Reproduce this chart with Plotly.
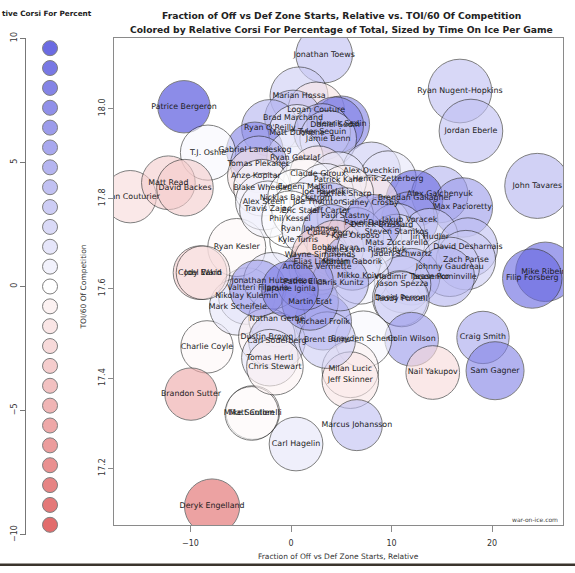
import plotly.graph_objects as go

W, H = 575, 573

# ---------------- data ----------------
PLAYERS = [
    "Jonathan Toews", "Marian Hossa", "Ryan Nugent-Hopkins", "Patrice Bergeron",
    "Logan Couture", "Brad Marchand", "Ryan O'Reilly", "Matt Duchene",
    "Henrik Sedin", "Daniel Sedin", "Tyler Seguin", "Jamie Benn",
    "Gabriel Landeskog", "T.J. Oshie", "Ryan Getzlaf", "Tomas Plekanec",
    "Alex Ovechkin", "Henrik Zetterberg", "Alex Galchenyuk", "Brendan Gallagher",
    "Sidney Crosby", "Max Pacioretty", "John Tavares", "Jakub Voracek",
    "Derick Brassard", "Steven Stamkos", "Jiri Hudler", "Mats Zuccarello",
    "David Desharnais", "Jaden Schwartz", "Zach Parise", "Johnny Gaudreau",
    "Vladimir Tarasenko", "Jason Pominville", "Mike Ribeiro", "Filip Forsberg",
    "Jason Spezza", "Mikko Koivu", "David Perron", "Teddy Purcell",
    "Colin Wilson", "Brayden Schenn", "Michael Frolik", "Craig Smith",
    "Nail Yakupov", "Sam Gagner", "Milan Lucic", "Jeff Skinner",
    "Marcus Johansson", "Carl Hagelin", "Deryk Engelland", "Mike Santorelli",
    "Matt Cullen", "Charlie Coyle", "Brandon Sutter", "Nikolay Kulemin",
    "Mark Scheifele", "Nathan Gerbe", "Dustin Brown", "Carl Soderberg",
    "Brent Burns", "Tomas Hertl", "Chris Stewart", "Sean Couturier",
    "Matt Read", "David Backes", "Ryan Kesler", "Cody Eakin",
    "Joel Ward", "Kyle Turris", "Antoine Vermette", "Jonathan Huberdeau",
    "Valtteri Filppula", "Martin Erat", "Anze Kopitar", "Blake Wheeler",
    "Alex Steen", "Travis Zajac", "Jordan Eberle",
    "Claude Giroux", "Patrick Kane", "Evgeni Malkin", "Joe Pavelski",
    "Patrick Sharp", "Nicklas Backstrom", "Joe Thornton", "Eric Staal",
    "Jeff Carter", "Phil Kessel", "Paul Stastny", "Ryan Johansen",
    "Corey Perry", "Kyle Okposo", "Pavel Datsyuk", "Bobby Ryan",
    "Wayne Simmonds", "Elias Lindholm", "Marian Gaborik", "James van Riemsdyk",
    "Chris Kunitz", "Patrik Elias", "Jarome Iginla",
]
OFF_ZS_REL = [
    3.3, 0.8, 16.8, -10.65,
    2.5, 0.2, -2.1, 0.6,
    5.0, 4.4, 3.1, 3.7,
    -3.6, -8.26, 0.4, -3.2,
    8.0, 9.65, 14.8, 12.3,
    7.9, 17.1, 24.5, 11.8,
    9.05, 10.5, 13.8, 10.5,
    17.6, 11.0, 17.4, 15.8,
    12.0, 15.3, 25.3, 24.0,
    11.1, 6.9, 10.85, 11.0,
    12.0, 7.2, 3.2, 19.1,
    14.1, 20.3, 5.9, 5.9,
    6.55, 0.5, -7.85, -3.8,
    -3.9, -8.36, -9.95, -4.4,
    -5.3, -1.4, -2.4, -1.4,
    3.6, -2.1, -1.6, -16.0,
    -12.2, -10.55, -5.4, -9.05,
    -8.75, 0.7, 2.6, -1.9,
    -3.3, 1.9, -3.5, -2.9,
    -2.7, -2.3, 17.9,
    2.7, 4.7, 1.4, 3.4,
    5.4, 0.5, 2.7, 0.9,
    3.9, -0.1, 5.4, 1.9,
    3.9, 6.4, 8.1, 4.4,
    2.9, 3.1, 6.1, 7.4,
    4.9, 1.4, -0.1,
]
TOI_COMP = [
    18.12, 18.028, 18.039, 18.004,
    17.996, 17.978, 17.957, 17.946,
    17.965, 17.963, 17.948, 17.933,
    17.907, 17.902, 17.889, 17.876,
    17.861, 17.843, 17.809, 17.800,
    17.789, 17.780, 17.828, 17.752,
    17.741, 17.726, 17.715, 17.702,
    17.691, 17.676, 17.663, 17.648,
    17.626, 17.626, 17.637, 17.622,
    17.609, 17.628, 17.578, 17.576,
    17.487, 17.487, 17.526, 17.491,
    17.413, 17.417, 17.420, 17.396,
    17.296, 17.254, 17.115, 17.324,
    17.322, 17.470, 17.365, 17.583,
    17.559, 17.533, 17.493, 17.483,
    17.485, 17.446, 17.426, 17.804,
    17.835, 17.824, 17.691, 17.635,
    17.635, 17.707, 17.648, 17.617,
    17.600, 17.570, 17.850, 17.824,
    17.793, 17.776, 17.950,
    17.854, 17.841, 17.826, 17.815,
    17.811, 17.802, 17.793, 17.772,
    17.772, 17.754, 17.761, 17.733,
    17.724, 17.717, 17.746, 17.689,
    17.674, 17.659, 17.659, 17.685,
    17.613, 17.615, 17.598,
]
REL_CF = [
    2.5, 2.0, 2.5, 7.5,
    -1.0, 2.5, 3.0, 0.5,
    5.0, 5.0, 3.0, 2.0,
    5.0, 0.3, 0.5, 3.0,
    2.0, 1.0, 3.0, 6.0,
    -1.0, 4.0, 3.0, 4.0,
    2.0, 2.0, 2.0, 1.0,
    2.5, 1.0, 2.0, 2.0,
    3.0, 3.0, 6.0, 6.0,
    2.0, 0.5, 1.0, 2.0,
    4.0, 0.3, 4.0, 3.5,
    -1.5, 5.0, -0.5, -1.0,
    2.5, 1.0, -6.0, -0.5,
    0.0, -0.3, -3.5, 1.0,
    1.0, 1.0, -0.5, 2.0,
    2.0, 1.0, -0.5, -1.5,
    -2.0, -2.0, -0.3, -2.0,
    -1.0, 0.0, -1.5, 1.0,
    4.0, 4.0, -1.0, 0.0,
    0.5, 0.5, 2.5,
    -1.0, 1.0, 0.0, 0.5,
    -0.5, 0.0, 1.0, 0.0,
    3.0, 0.0, 1.0, 0.5,
    3.0, 2.0, 4.0, -2.0,
    -2.0, -1.0, 3.0, 1.0,
    3.0, 4.0, 5.0,
]
TOI_GP = [
    15.9, 16.7, 20.1, 13.6,
    15.9, 15.9, 15.9, 15.9,
    15.9, 15.9, 15.9, 15.9,
    15.9, 15.1, 15.9, 15.9,
    16.7, 15.9, 15.9, 15.9,
    15.9, 17.5, 21.0, 15.9,
    15.9, 15.9, 15.9, 15.9,
    17.5, 15.9, 17.5, 17.5,
    15.9, 17.5, 17.5, 17.5,
    15.9, 15.9, 15.1, 15.1,
    14.3, 15.9, 15.9, 13.6,
    14.3, 16.7, 15.9, 15.9,
    12.9, 14.3, 15.1, 14.3,
    14.3, 13.6, 13.6, 15.9,
    15.9, 15.9, 15.9, 15.9,
    15.9, 15.9, 15.9, 13.6,
    14.3, 15.9, 16.7, 14.3,
    14.3, 15.9, 15.9, 15.9,
    15.9, 15.9, 15.9, 15.9,
    15.9, 15.9, 20.1,
    15.9, 15.9, 15.9, 15.9,
    15.9, 15.9, 15.9, 15.9,
    15.9, 15.9, 15.9, 15.9,
    15.9, 15.9, 15.9, 15.9,
    15.9, 15.9, 15.9, 15.9,
    15.9, 15.9, 15.9,
]

LEGEND_VALUES = [9.6, 8.8, 8.0, 7.2, 6.4, 5.6, 4.8, 4.0, 3.2, 2.4, 1.6, 0.8, 0.0,
                 -0.8, -1.6, -2.4, -3.2, -4.0, -4.8, -5.6, -6.4, -7.2, -8.0, -8.8, -9.6]

X_TICKS = [-10, 0, 10, 20]
Y_TICKS = [17.2, 17.4, 17.6, 17.8, 18.0]
Y_TICK_LABELS = ["17.2", "17.4", "17.6", "17.8", "18.0"]
LEG_TICKS = [-10, -5, 0, 5, 10]

# ---------------- styling ----------------
FONT = "DejaVu Sans"
COLORSCALE = [[0.0, "rgb(205,0,0)"], [0.5, "rgb(255,255,255)"], [1.0, "rgb(0,0,205)"]]


def fx(p):
    return p / W


def fy(p):
    return 1 - p / H


fig = go.Figure()

fig.add_trace(go.Scatter(
    x=OFF_ZS_REL, y=TOI_COMP, text=PLAYERS, mode="markers+text",
    textposition="middle center",
    textfont=dict(family=FONT, size=7.9, color="#1c1c1c"),
    marker=dict(size=TOI_GP, sizemode="area", sizeref=0.00992,
                color=REL_CF, colorscale=COLORSCALE, cmin=-10, cmax=10,
                opacity=0.6, line=dict(color="#2a2a2a", width=1)),
    cliponaxis=True, hoverinfo="text", showlegend=False,
    xaxis="x", yaxis="y",
))

fig.add_trace(go.Scatter(
    x=[0.286] * len(LEGEND_VALUES), y=LEGEND_VALUES, mode="markers",
    marker=dict(size=15, color=LEGEND_VALUES, colorscale=COLORSCALE,
                cmin=-10, cmax=10, opacity=0.6,
                line=dict(color="#2a2a2a", width=1)),
    hoverinfo="y", showlegend=False, xaxis="x2", yaxis="y2",
))

fig.update_layout(
    width=W, height=H, autosize=False,
    margin=dict(l=0, r=0, t=0, b=0),
    paper_bgcolor="white", plot_bgcolor="white",
    font=dict(family=FONT, color="#333"),
    xaxis=dict(domain=[fx(114), fx(563)], range=[-17.61, 27.06],
               showgrid=False, zeroline=False, showline=True, mirror=True,
               linecolor="#8a8a8a", linewidth=1,
               ticks="outside", ticklen=6, tickcolor="#8a8a8a",
               ticklabelstandoff=4,
               tickvals=X_TICKS, tickfont=dict(size=8, color="#333"),
               anchor="y"),
    yaxis=dict(domain=[fy(531), fy(32.7)], range=[17.074, 18.157],
               showgrid=False, zeroline=False, showline=True, mirror=True,
               linecolor="#8a8a8a", linewidth=1,
               ticks="outside", ticklen=5, tickcolor="#8a8a8a",
               tickvals=Y_TICKS, ticktext=Y_TICK_LABELS, tickangle=-90,
               tickfont=dict(size=8, color="#333"), anchor="x"),
    xaxis2=dict(domain=[fx(26), fx(110)], range=[0, 1], visible=False,
                anchor="y2"),
    yaxis2=dict(domain=[fy(541), fy(33)], range=[-10, 10],
                showgrid=False, zeroline=False, showline=True,
                linecolor="#777", linewidth=1, ticks="outside", ticklen=5,
                tickcolor="#777", tickvals=LEG_TICKS, tickangle=-90,
                tickfont=dict(size=8, color="#333"), anchor="x2"),
)

ann = [
    dict(text="<b>Fraction of Off vs Def Zone Starts, Relative vs. TOI/60 Of Competition</b>",
         x=fx(341), y=fy(10), font=dict(size=9.2, color="#222")),
    dict(text="<b>Colored by Relative Corsi For Percentage of Total, Sized by Time On Ice Per Game</b>",
         x=fx(341), y=fy(24), font=dict(size=9.2, color="#222")),
    dict(text="<b>tive Corsi For Percent</b>", x=fx(0), y=fy(8), xanchor="left",
         font=dict(size=7.3, color="#222")),
    dict(text="Fraction of Off vs Def Zone Starts, Relative", x=fx(338), y=fy(563),
         font=dict(size=7.5, color="#333")),
    dict(text="TOI/60 Of Competition", x=fx(83), y=fy(288), textangle=-90,
         font=dict(size=7.5, color="#333")),
    dict(text="war-on-ice.com", x=fx(560), y=fy(525), xanchor="right",
         font=dict(size=6, color="#444")),
]
for a in ann:
    a.setdefault("xanchor", "center")
    a.update(xref="paper", yref="paper", yanchor="middle", showarrow=False,
             font=dict(family=FONT, **a["font"]))
fig.update_layout(annotations=ann)

fig.add_shape(type="rect", xref="paper", yref="paper", x0=0, x1=1,
              y0=0, y1=2.5 / H, fillcolor="#3b342d", line=dict(width=0))

fig.write_html("out.html")
